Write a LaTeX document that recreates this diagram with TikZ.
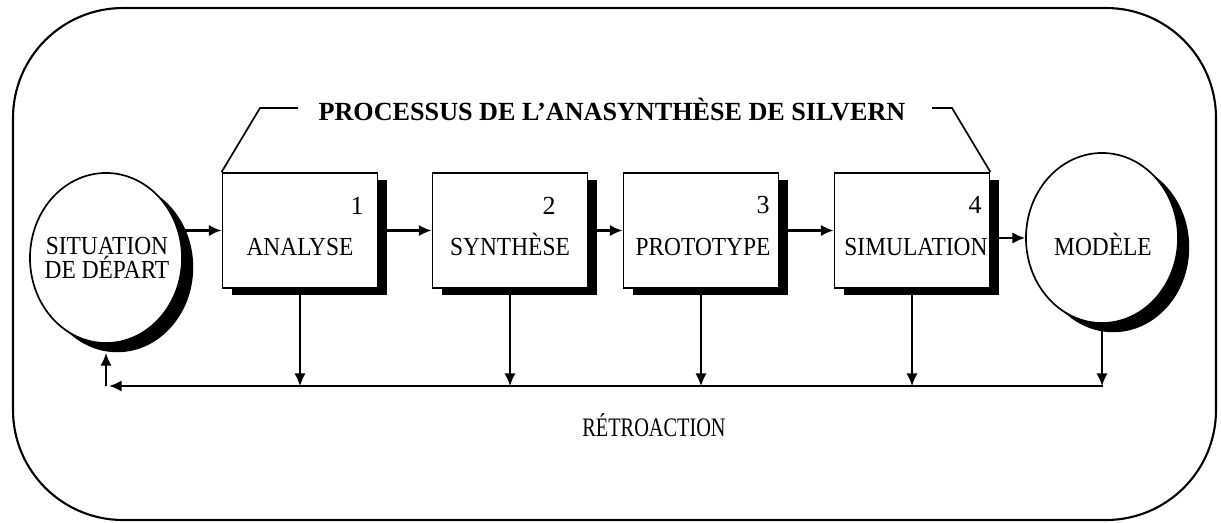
\documentclass[tikz,border=0pt]{standalone}
\usepackage{fontspec}
\setmainfont{Liberation Serif}
\newfontfamily\lblfont[FakeStretch=0.9]{Liberation Serif}
\newfontfamily\retfont[FakeStretch=0.76]{Liberation Serif}
\usetikzlibrary{arrows.meta,shadows,shapes.geometric}
\begin{document}
\begin{tikzpicture}[x=0.025cm,y=-0.025cm,
  stepbox/.style={draw, line width=1.3pt, fill=white, minimum width=3.875cm,
    minimum height=2.875cm, inner sep=0pt,
    general shadow={fill=black, shadow xshift=0.23cm, shadow yshift=-0.18cm}},
  roundnode/.style={ellipse, draw, line width=1.2pt, fill=white, minimum width=3.8cm,
    minimum height=4.25cm, inner sep=0pt,
    general shadow={fill=black, shadow xshift=0.28cm, shadow yshift=-0.23cm}},
  lbl/.style={font=\lblfont\fontsize{18.5}{15.6}\selectfont, inner sep=0pt,
    text height=12.5pt, text depth=0pt},
  multilbl/.style={font=\lblfont\fontsize{18.5}{15.8}\selectfont, inner sep=0pt, align=center},
  num/.style={font=\fontsize{18.5}{18}\selectfont, inner sep=0pt, text height=12.5pt, text depth=0pt},
  titlelbl/.style={font=\bfseries\fontsize{18.6}{18}\selectfont, inner sep=0pt,
    text height=12.5pt, text depth=0pt},
  arr/.style={line width=1.6pt, -{Latex[length=9pt,width=8pt]}},
  thinarr/.style={line width=1.1pt, -{Latex[length=9pt,width=8pt]}},
  bracket/.style={line width=1.2pt}
]
\useasboundingbox (0,0) rectangle (1221,522);
% outer frame
\draw[line width=1.5pt, rounded corners=2.75cm] (13,8) rectangle (1216,520);

% round nodes
\node[roundnode] (sit) at (106,258) {};
\node[roundnode] (mod) at (1102,238) {};
\node[multilbl] (sitl) at (107,258) {SITUATION\\DE DÉPART};
\node[lbl] (modl) at (1103,247) {MODÈLE};

% step boxes
\node[stepbox] (a) at (300,230.5) {};
\node[stepbox] (s) at (510,230.5) {};
\node[stepbox] (p) at (701,230.5) {};
\node[stepbox] (m) at (912,230.5) {};

\node[lbl] (al) at (300,247) {ANALYSE};
\node[lbl] (sl) at (510,247) {SYNTHÈSE};
\node[lbl] (pl) at (703,247) {PROTOTYPE};
\node[lbl] (ml) at (916,247) {SIMULATION};

\node[num] (an) at (357,206) {1};
\node[num] (sn) at (549,206) {2};
\node[num] (pn) at (763,205) {3};
\node[num] (mn) at (975,205) {4};

% title and bracket
\node[titlelbl] (t) at (612,112) {PROCESSUS DE L’ANASYNTHÈSE DE SILVERN};
\coordinate (bl1) at (260,108);
\coordinate (bl2) at (298,108);
\coordinate (br1) at (932,108);
\coordinate (br2) at (952,108);
\draw[bracket] (a.north west) -- (bl1) -- (bl2);
\draw[bracket] (br1) -- (br2) -- (m.north east);

% main flow
\draw[arr] (sit.east |- a.west) -- (a.west);
\draw[arr] (a.east) -- (s.west);
\draw[arr] (s.east) -- (p.west);
\draw[arr] (p.east) -- (m.west);
\draw[arr] (m.east |- mod.west) -- (mod.west);

% feedback
\coordinate (fbL) at (109,386);
\coordinate (fbR) at (1103,386);
\draw[thinarr] (a.south) -- (a.south |- fbL);
\draw[thinarr] (s.south) -- (s.south |- fbL);
\draw[thinarr] (p.south) -- (p.south |- fbL);
\draw[thinarr] (m.south) -- (m.south |- fbL);
\draw[thinarr] (mod.south) -- (mod.south |- fbL);
\draw[arr] (fbR) -- (fbL);
\draw[thinarr] (sit.south |- fbL) -- ([yshift=-0.23cm]sit.south);

\node[font=\retfont\fontsize{19}{19}\selectfont, inner sep=0pt, text height=12.5pt, text depth=0pt] (ret) at (654,428) {RÉTROACTION};
\end{tikzpicture}
\end{document}
